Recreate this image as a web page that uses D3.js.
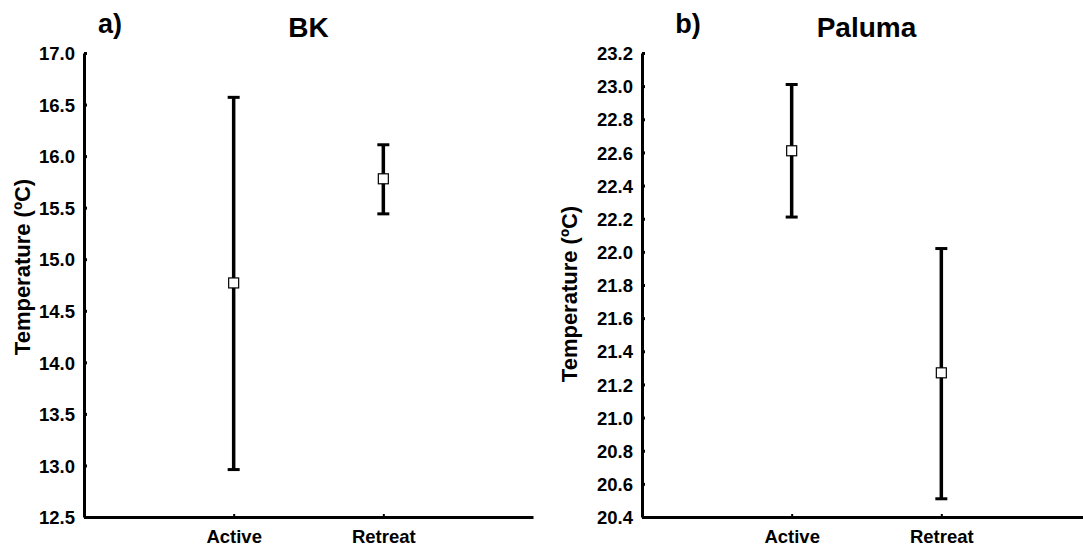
<!DOCTYPE html>
<html>
<head>
<meta charset="utf-8">
<script src="https://cdn.jsdelivr.net/npm/d3@7"></script>
<style>
  html, body { margin: 0; padding: 0; background: #fff; }
  svg text { font-family: "Liberation Sans", Arial, sans-serif; font-weight: bold; fill: #000; }
</style>
</head>
<body>
<svg id="chart" width="1083" height="548"></svg>
<script>
// Mean temperature with error bars per group, two sites
const categories = ["Active", "Retreat"];

const bkMean = [14.77, 15.78];
const bkLow  = [12.96, 15.44];
const bkHigh = [16.57, 16.11];
const bkTicks = [12.5, 13.0, 13.5, 14.0, 14.5, 15.0, 15.5, 16.0, 16.5, 17.0];

const palumaMean = [22.61, 21.27];
const palumaLow  = [22.21, 20.51];
const palumaHigh = [23.01, 22.02];
const palumaTicks = [20.4, 20.6, 20.8, 21.0, 21.2, 21.4, 21.6, 21.8, 22.0, 22.2, 22.4, 22.6, 22.8, 23.0, 23.2];

const panels = [
  { tag: "a)", title: "BK", mean: bkMean, low: bkLow, high: bkHigh, ticks: bkTicks,
    x0: 84, x1: 533, tagX: 110, yTitleX: 22, yTitleY: 267 },
  { tag: "b)", title: "Paluma", mean: palumaMean, low: palumaLow, high: palumaHigh, ticks: palumaTicks,
    x0: 642, x1: 1091, tagX: 688, yTitleX: 569, yTitleY: 294 }
];

const yTop = 53, yBot = 517;
const svg = d3.select("#chart");

panels.forEach(p => {
  const g = svg.append("g");
  const x = d3.scalePoint().domain(categories).range([p.x0, p.x1]).padding(1);
  const y = d3.scaleLinear()
    .domain([p.ticks[0], p.ticks[p.ticks.length - 1]])
    .range([yBot, yTop]);

  // y axis
  const ya = g.append("g")
    .attr("transform", `translate(${p.x0},0)`)
    .call(d3.axisLeft(y).tickValues(p.ticks).tickFormat(d3.format(".1f"))
      .tickSize(-3).tickSizeOuter(0).tickPadding(9));
  ya.select(".domain").attr("stroke", "#000").attr("stroke-width", 3);
  ya.selectAll(".tick line").attr("stroke", "#000").attr("stroke-width", 3);
  ya.selectAll(".tick text").attr("font-size", 18.5).attr("font-family", null).attr("dy", "0.36em");

  // x axis
  const xa = g.append("g")
    .attr("transform", `translate(0,${yBot})`)
    .call(d3.axisBottom(x).tickSize(-3).tickSizeOuter(0).tickPadding(13));
  xa.select(".domain").attr("stroke", "#000").attr("stroke-width", 3);
  xa.selectAll(".tick line").attr("stroke", "#000").attr("stroke-width", 2);
  xa.selectAll(".tick text").attr("font-size", 18.5).attr("font-family", null);

  // titles
  g.append("text").attr("x", p.tagX).attr("y", 33)
    .attr("text-anchor", "middle").attr("font-size", 27).text(p.tag);
  g.append("text").attr("x", (p.x0 + p.x1) / 2).attr("y", 37)
    .attr("text-anchor", "middle").attr("font-size", 28).text(p.title);
  g.append("text")
    .attr("transform", `translate(${p.yTitleX},${p.yTitleY}) rotate(-90)`)
    .attr("text-anchor", "middle").attr("dominant-baseline", "central")
    .attr("font-size", 22).text("Temperature (ºC)");

  // error bars
  const bars = g.selectAll(".bar").data(categories).enter().append("g");
  bars.append("line")
    .attr("x1", d => x(d)).attr("x2", d => x(d))
    .attr("y1", (d, i) => y(p.low[i])).attr("y2", (d, i) => y(p.high[i]))
    .attr("stroke", "#000").attr("stroke-width", 3.5);
  ["low", "high"].forEach(k => {
    bars.append("line")
      .attr("x1", d => x(d) - 6).attr("x2", d => x(d) + 6)
      .attr("y1", (d, i) => y(p[k][i])).attr("y2", (d, i) => y(p[k][i]))
      .attr("stroke", "#000").attr("stroke-width", 3);
  });
  bars.append("rect")
    .attr("x", d => x(d) - 5).attr("y", (d, i) => y(p.mean[i]) - 5)
    .attr("width", 10).attr("height", 10)
    .attr("fill", "#fff").attr("stroke", "#000").attr("stroke-width", 1.2);
});
</script>
</body>
</html>
